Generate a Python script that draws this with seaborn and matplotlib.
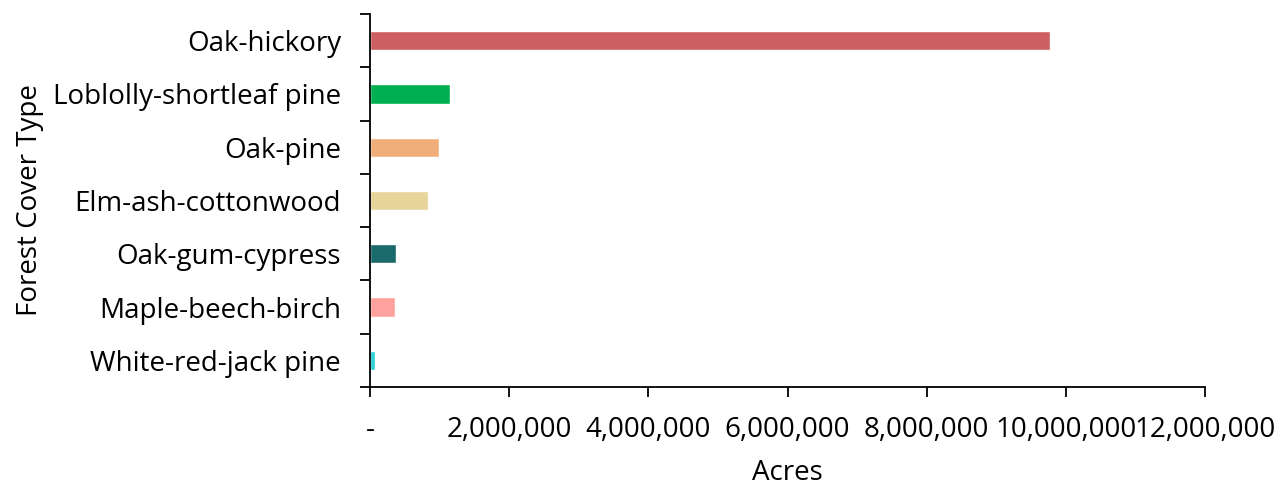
import numpy as np
import pandas as pd
import matplotlib
matplotlib.use("Agg")
import matplotlib.pyplot as plt
from matplotlib.ticker import FuncFormatter, FixedLocator
import seaborn as sns

cover_types = ["Oak-hickory", "Loblolly-shortleaf pine", "Oak-pine", "Elm-ash-cottonwood",
               "Oak-gum-cypress", "Maple-beech-birch", "White-red-jack pine"]
acres = [9770000, 1150000, 990000, 830000, 370000, 355000, 72000]
colors = ["#CD5F62", "#00B050", "#F0AF7A", "#E6D498", "#1A696B", "#FFA19C", "#2ECFD9"]

df = pd.DataFrame({"type": cover_types, "acres": acres})

sns.set_style("white")
plt.rcParams['font.family'] = ['Open Sans', 'DejaVu Sans']
plt.rcParams['text.color'] = 'black'
plt.rcParams['axes.labelcolor'] = 'black'
plt.rcParams['xtick.color'] = 'black'
plt.rcParams['ytick.color'] = 'black'

fig = plt.figure(figsize=(12.88, 4.87), dpi=100)
ax = fig.add_axes([0.2873, 0.2053, 0.6483, 0.766])

sns.barplot(data=df, y="type", x="acres", hue="type", palette=dict(zip(cover_types, colors)),
            order=cover_types, width=0.36, legend=False, ax=ax, saturation=1)

ax.set_xlim(0, 12000000)
ax.set_ylim(6.5, -0.5)
ax.set_xticks(np.arange(0, 12000001, 2000000))

def fmt(v, pos):
    return "-" if v == 0 else f"{int(v):,}"
ax.xaxis.set_major_formatter(FuncFormatter(fmt))

ax.yaxis.set_minor_locator(FixedLocator(np.arange(-0.5, 7, 1)))
ax.tick_params(axis="y", which="major", length=0, labelsize=20, pad=21)
ax.tick_params(axis="y", which="minor", length=7, width=1.3, direction="out", left=True)
ax.tick_params(axis="x", which="major", length=7, width=1.3, direction="out",
               bottom=True, labelsize=20, pad=14)

for s in ["top", "right"]:
    ax.spines[s].set_visible(False)
for s in ["left", "bottom"]:
    ax.spines[s].set_color("black")
    ax.spines[s].set_linewidth(1.3)

ax.set_xlabel("Acres", fontsize=20)
ax.set_ylabel("Forest Cover Type", fontsize=20)
ax.xaxis.set_label_coords(0.5, -0.193)
ax.yaxis.set_label_coords(-0.39, 0.5)

fig.savefig("out.png", dpi=100)
